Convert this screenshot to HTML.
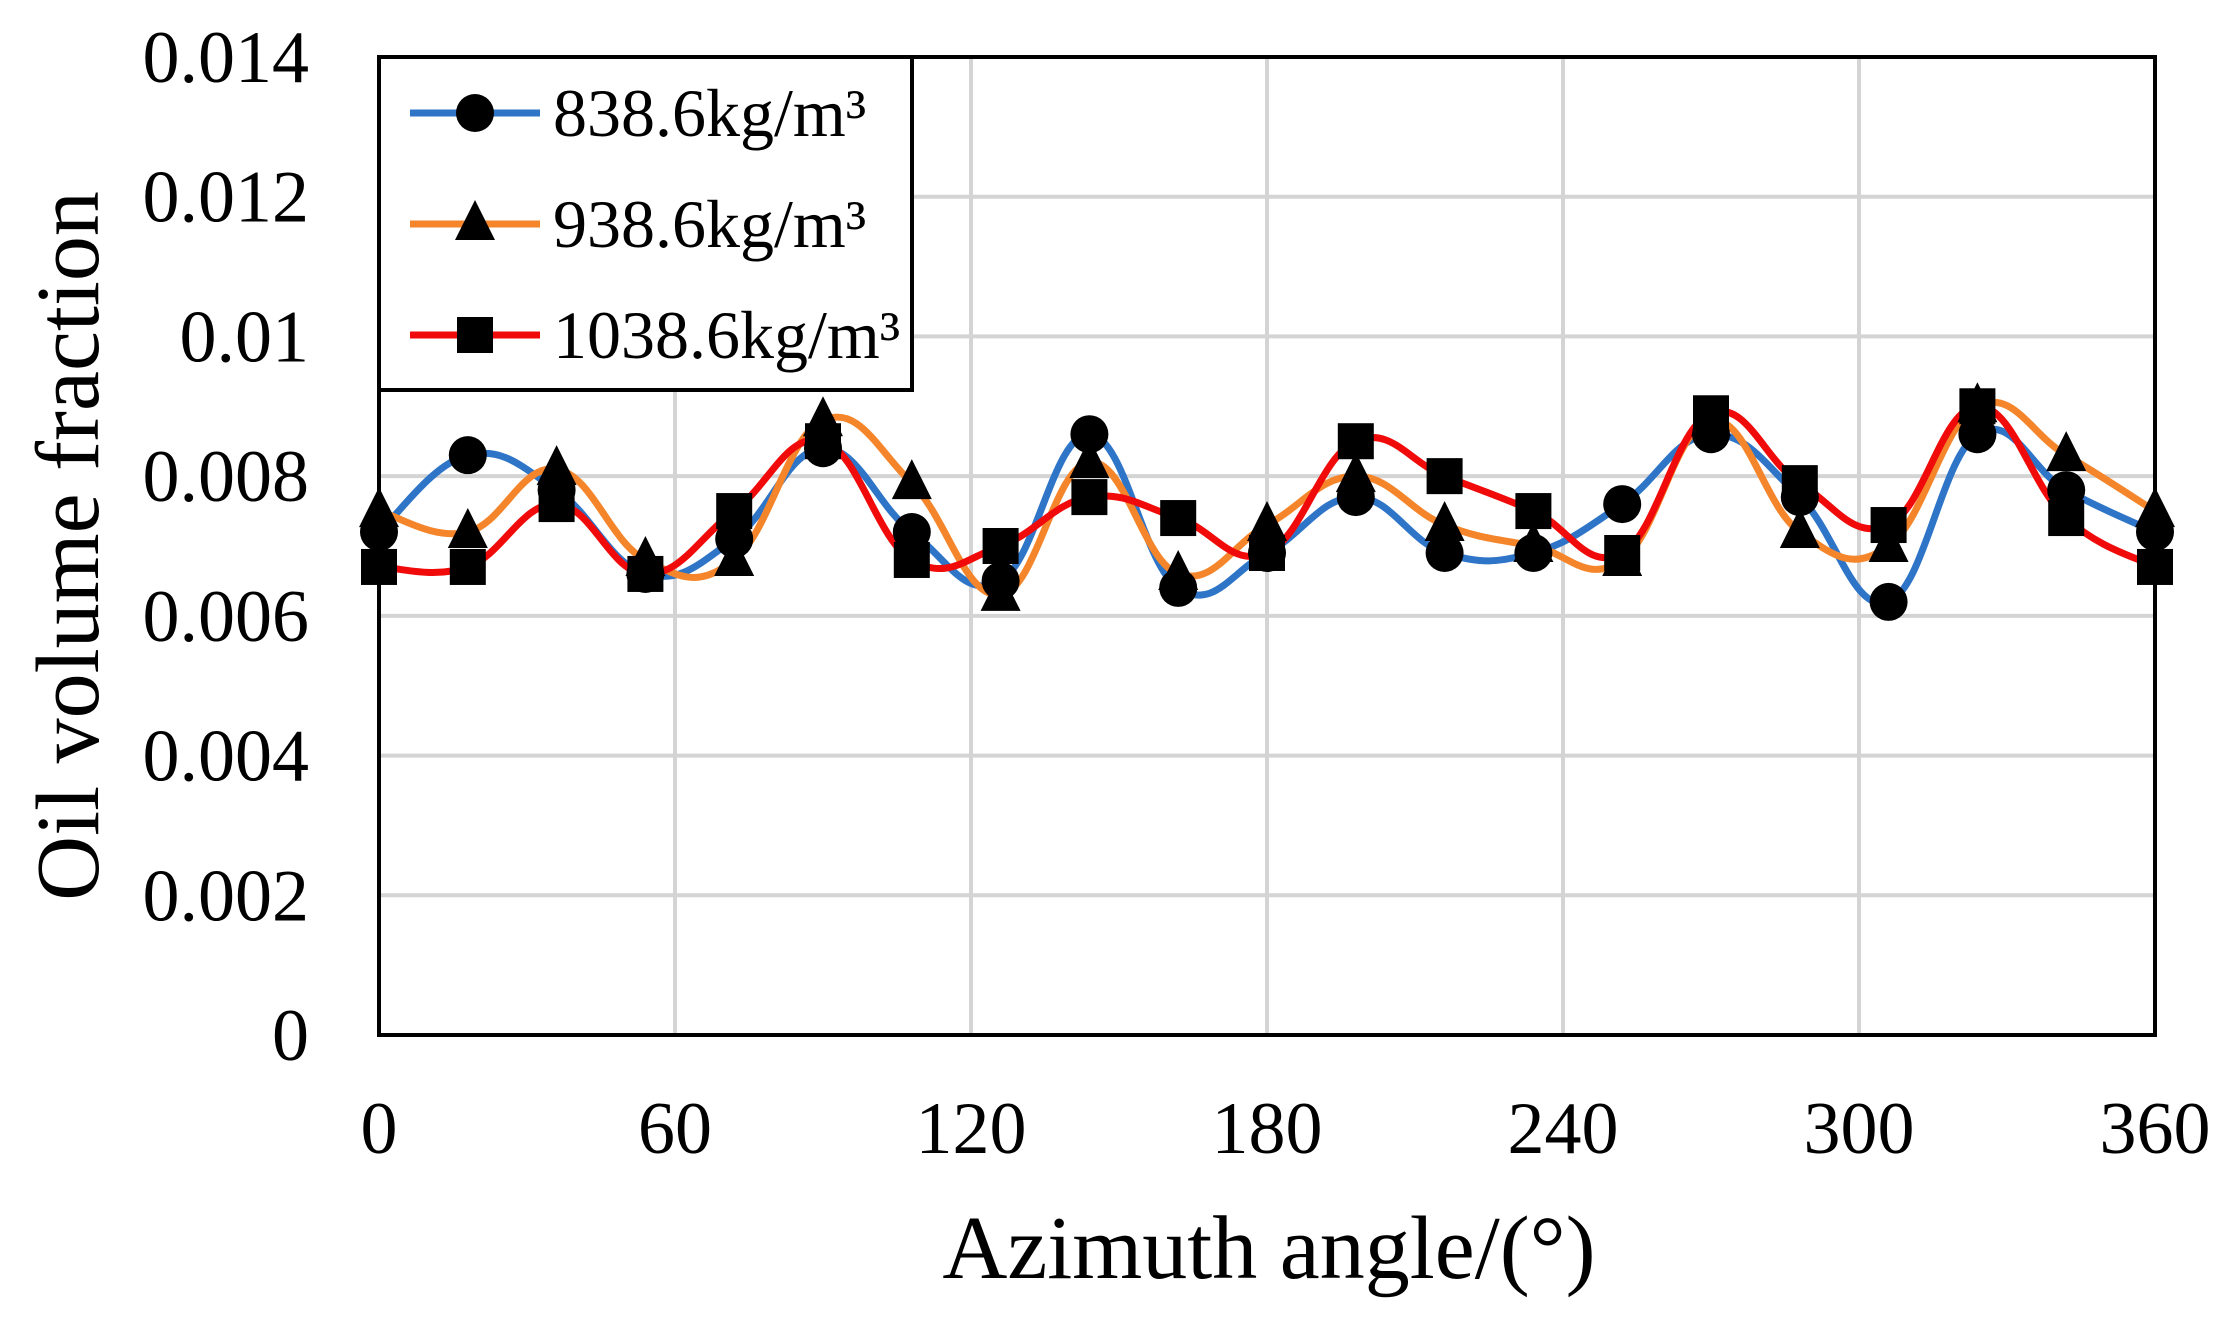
<!DOCTYPE html>
<html><head><meta charset="utf-8"><style>
html,body{margin:0;padding:0;background:#fff}
svg{display:block;font-family:"Liberation Serif",serif}
</style></head><body>
<svg id="c" width="2223" height="1322" xmlns="http://www.w3.org/2000/svg">
<g id="grid" stroke="#d4d4d4" stroke-width="4"></g>
<g id="series"></g>
<rect x="379" y="57" width="1776" height="978" fill="none" stroke="#000" stroke-width="4"/>
<g id="labels" font-size="74" fill="#000"></g>
<text x="1269" y="1278" font-size="90" text-anchor="middle">Azimuth angle/(°)</text>
<text transform="translate(98,546) rotate(-90)" font-size="90" text-anchor="middle">Oil volume fraction</text>
<g id="legend">
<rect x="379" y="57" width="533" height="333" fill="#fff" stroke="#000" stroke-width="4"/>
</g>
</svg>
<script>
const L=379,R=2155,B=1035,T=57;
const X=a=>L+(a/360)*(R-L), Y=v=>B-(v/0.014)*(B-T);
const ns="http://www.w3.org/2000/svg";
function el(tag,attrs,parent,txt){const e=document.createElementNS(ns,tag);for(const k in attrs)e.setAttribute(k,attrs[k]);if(txt!==undefined)e.textContent=txt;parent.appendChild(e);return e;}
const grid=document.getElementById('grid'),labels=document.getElementById('labels');
for(let i=0;i<=7;i++){const y=Y(i*0.002);if(i>0&&i<7)el('line',{x1:L,x2:R,y1:y,y2:y},grid);
 el('text',{x:309,y:y+25,'text-anchor':'end'},labels,i==0?'0':(i*0.002).toFixed(3).replace(/0+$/,'').replace(/\.$/,'')||'0');}
for(let a=0;a<=360;a+=60){const x=X(a);if(a>0&&a<360)el('line',{x1:x,x2:x,y1:T,y2:B},grid);
 el('text',{x:x,y:1153,'text-anchor':'middle'},labels,String(a));}
const data={
blue:[72,83,78,66,71,84,72,65,86,64,69,77,69,69,76,86,77,62,86,78,72],
orange:[75,72,81,68,68,88,79,63,82,66,73,80,73,70,68,88,72,70,90,83,75],
red:[67,67,76,66,75,85,68,70,77,74,69,85,80,75,69,89,79,73,90,74,67]};
const cols={blue:'#2e75c8',orange:'#f5852a',red:'#f00a0a'};
const ser=document.getElementById('series');
function path(pts){let d=`M${pts[0][0]},${pts[0][1]}`;for(let i=0;i<pts.length-1;i++){const p0=pts[Math.max(i-1,0)],p1=pts[i],p2=pts[i+1],p3=pts[Math.min(i+2,pts.length-1)];const t=0.5/3*1.2;
d+=` C${p1[0]+(p2[0]-p0[0])*t},${p1[1]+(p2[1]-p0[1])*t} ${p2[0]-(p3[0]-p1[0])*t},${p2[1]-(p3[1]-p1[1])*t} ${p2[0]},${p2[1]}`;}return d;}
const P={};for(const k in data)P[k]=data[k].map((v,i)=>[X(i*18),Y(v/10000)]);
for(const k of ['blue','orange','red'])el('path',{d:path(P[k]),fill:'none',stroke:cols[k],'stroke-width':7},ser);
function marker(k,x,y,g){if(k=='blue')el('circle',{cx:x,cy:y,r:19,fill:'#000'},g);
 else if(k=='orange')el('polygon',{points:`${x},${y-24} ${x+20},${y+16} ${x-20},${y+16}`,fill:'#000'},g);
 else el('rect',{x:x-18,y:y-18,width:36,height:36,fill:'#000'},g);}
for(const k of ['blue','orange','red'])P[k].forEach(p=>marker(k,p[0],p[1],ser));
const lg=document.getElementById('legend');
const names={blue:'838.6kg/m³',orange:'938.6kg/m³',red:'1038.6kg/m³'};
[['blue',113],['orange',224],['red',335]].forEach(([k,y])=>{el('line',{x1:410,x2:540,y1:y,y2:y,stroke:cols[k],'stroke-width':7},lg);marker(k,475,y,lg);
el('text',{x:553,y:y+23,'font-size':68},lg,names[k]);});
</script>
</body></html>
